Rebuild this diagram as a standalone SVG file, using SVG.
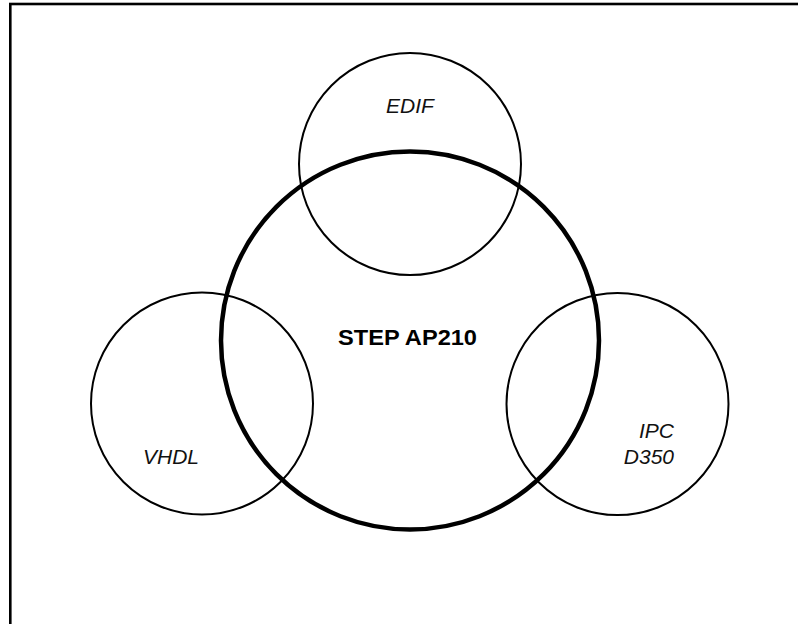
<svg xmlns="http://www.w3.org/2000/svg" width="798" height="624" viewBox="0 0 798 624">
  <style>
    .ring { fill: none; stroke: #000; stroke-width: 2; }
    .core { fill: none; stroke: #000; stroke-width: 4.5; }
    .lbl { font-family: "Liberation Sans", Arial, sans-serif; font-size: 21px; font-style: italic; fill: #111; }
    .title { font-family: "Liberation Sans", Arial, sans-serif; font-size: 22.5px; font-weight: bold; fill: #000; }
  </style>
  <rect width="798" height="624" fill="#fff"/>
  <!-- frame (only top and left edges fall inside the canvas) -->
  <rect x="10.3" y="4" width="800" height="640" fill="none" stroke="#000" stroke-width="2.6"/>

  <g id="edif">
    <circle class="ring" cx="410" cy="164" r="111"/>
    <text class="lbl" x="410" y="113" text-anchor="middle">EDIF</text>
  </g>
  <g id="vhdl">
    <circle class="ring" cx="202" cy="403.5" r="111"/>
    <text class="lbl" x="143" y="464">VHDL</text>
  </g>
  <g id="ipc">
    <circle class="ring" cx="617.5" cy="404" r="111"/>
    <text class="lbl" x="674" y="438" text-anchor="end">IPC</text>
    <text class="lbl" x="674" y="464" text-anchor="end">D350</text>
  </g>
  <g id="step">
    <circle class="core" cx="410" cy="340.5" r="189"/>
    <text class="title" x="338" y="345" textLength="139" lengthAdjust="spacingAndGlyphs">STEP AP210</text>
  </g>
  <g id="connectors"/>
</svg>
